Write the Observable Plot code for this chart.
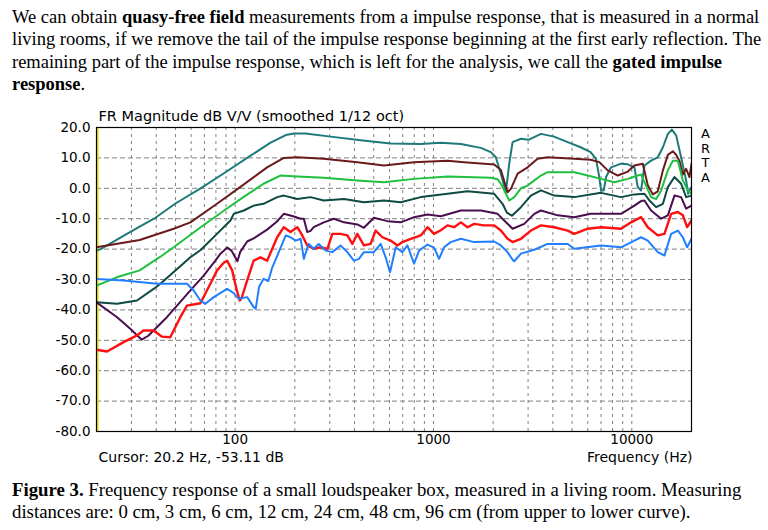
<!DOCTYPE html>
<html>
<head>
<meta charset="utf-8">
<script src="https://cdn.jsdelivr.net/npm/d3@7"></script>
<script src="https://cdn.jsdelivr.net/npm/@observablehq/plot@0.6"></script>
<style>
  html, body { margin: 0; padding: 0; background: #fff; }
  body { width: 768px; height: 530px; position: relative; overflow: hidden; }
  .txt { position: absolute; left: 12px; font-family: "Liberation Serif", "Times New Roman", serif; line-height: 22.4px; color: #000; white-space: nowrap; }
  #para { top: 6px; font-size: 18.5px; }
  #caption { top: 479px; font-size: 18.8px; }
  #chart { position: absolute; left: 0; top: 100px; }
</style>
</head>
<body>
<div id="para" class="txt">We can obtain <b>quasy-free field</b> measurements from a impulse response, that is measured in a normal<br>living rooms, if we remove the tail of the impulse response beginning at the first early reflection. The<br>remaining part of the impulse response, which is left for the analysis, we call the <b>gated impulse</b><br><b>response</b>.</div>
<div id="chart"></div>
<div id="caption" class="txt"><b>Figure 3.</b> Frequency response of a small loudspeaker box, measured in a living room. Measuring<br>distances are: 0 cm, 3 cm, 6 cm, 12 cm, 24 cm, 48 cm, 96 cm (from upper to lower curve).</div>
<script>
// ---- data: [frequency Hz, dB] ----
const d0cm = [[20,-20.5],[21,-20],[26,-16.5],[33,-12.6],[39,-10],[50,-5],[67,0],[89,5.2],[115,10],[151,15],[180,17.5],[198,18],[226,18],[303,17],[429,15.8],[608,14.7],[863,14.6],[1089,15],[1374,14.6],[1734,13.3],[1945,11.9],[2063,10.2],[2187,4.8],[2318,-1.3],[2411,8.2],[2506,15.2],[2761,16.3],[3029,16],[3483,17.9],[4053,17],[4752,15.2],[5521,13.5],[6200,11.9],[6600,9.7],[6855,3.7],[6996,-0.7],[7222,-0.7],[7417,3.7],[7859,6.9],[8827,8.1],[9550,7.9],[10310,6.9],[10720,0.4],[11137,-0.7],[11580,7.5],[12510,9.1],[13520,10.2],[14350,13.5],[15200,17.9],[15920,19.3],[16740,17.4],[17730,10.2],[18790,2.6],[19230,-1.8],[20000,0.4]];
const d3cm = [[20,-19.4],[33,-17],[49,-13.3],[59.5,-11.2],[81,-5.1],[106,0.4],[145,6.9],[176,10],[206,10.2],[280,9.7],[413,8.6],[563,7.5],[798,8.6],[1177,9.1],[1427,8.6],[2024,7.8],[2187,6.0],[2364,-1.3],[2457,-0.2],[2657,4.8],[2984,6.9],[3350,9.7],[3765,10.2],[5130,9.7],[6200,9.4],[6855,8.6],[7564,5.9],[8500,4.2],[9550,5.5],[10310,7.5],[11360,8.1],[12040,1],[12760,-2],[13520,-1],[14350,5.9],[15200,11],[16110,12.2],[16740,11],[17400,9],[18090,4.5],[18790,6.4],[19540,3.7],[20000,8.1]];
const d6cm = [[20,-32],[26,-29],[33,-27],[42,-22.5],[49,-19.4],[67,-12.8],[88,-7.3],[110,-2.9],[139,1.5],[169,4.2],[206,3.9],[280,3.5],[413,2.6],[563,2.0],[798,3.1],[1177,3.9],[1945,3.5],[2105,3.0],[2187,1.5],[2273,-0.7],[2411,-4.0],[2554,-2.9],[2761,0],[2984,0.9],[3222,2.6],[3483,4.2],[3765,5.3],[5130,5.3],[5996,4.2],[6996,3.1],[8169,2.0],[9550,3.1],[10720,4.2],[11137,4.5],[11580,2],[12510,-2.9],[13260,-3.5],[14060,-0.7],[15200,5.9],[16110,9.1],[17080,9.1],[18090,2.6],[19180,-0.7],[20000,-1.8]];
const d12cm = [[20,-37.5],[25.4,-38],[32,-36.9],[38.8,-33.1],[42,-31.4],[59.5,-22.7],[67,-20.3],[81,-15],[94.7,-10.6],[98.4,-8.4],[110.5,-7.3],[124,-5.7],[139,-5.1],[163,-2.9],[176,-2.4],[206,-3.5],[240,-2.9],[280,-4.0],[354,-3.5],[446,-4.6],[563,-4.0],[684,-4.6],[863,-2.9],[1177,-1.8],[1485,-1.0],[2024,-1.8],[2231,-5.1],[2345,-8],[2486,-9],[2761,-6.2],[3100,-2.4],[3483,-0.7],[4065,-2.4],[5130,-2.9],[6996,-1.5],[8827,-2.9],[10310,-2.0],[11580,-1.8],[12270,-4.0],[13260,-6.2],[14350,-5.1],[15200,0.4],[16410,3.7],[17730,1.5],[18790,-2.9],[20000,-2.4]];
const d24cm = [[20,-37.5],[25.4,-42.4],[29.6,-46.2],[33.8,-49.8],[36.5,-48.5],[38.8,-46.8],[45.3,-42.4],[59.5,-33.6],[69.4,-28.7],[79.5,-23.8],[84.3,-21.5],[91.4,-19.5],[95.8,-20.5],[102.7,-24],[106,-21],[115,-17.5],[124,-16.5],[145,-13.6],[162,-11],[176,-8.4],[198,-9.3],[214,-10],[222,-10],[231,-14.4],[240,-14],[249,-12.8],[280,-11.2],[315,-10.0],[354,-11.2],[413,-11.9],[446,-13.0],[501,-9.7],[586,-10.8],[684,-11.2],[798,-9.5],[933,-8.6],[1089,-9.2],[1374,-7.3],[1734,-7.3],[2105,-8.4],[2273,-10.6],[2506,-13.3],[2869,-11.7],[3222,-8.4],[3483,-7.3],[4229,-8.9],[5130,-9.5],[6200,-8.4],[8827,-8.4],[10310,-5.7],[11137,-4.2],[11580,-4.0],[12510,-7.3],[14060,-10.0],[15200,-8.9],[16410,-2.4],[17730,-2.9],[18790,-6.7],[20000,-5.7]];
const d48cm = [[20,-53.1],[22.6,-53.7],[27.4,-50.6],[32,-48.4],[34.5,-46.8],[38.8,-46.8],[42.8,-48.8],[47.1,-49],[52.9,-42.4],[57.2,-38.6],[66.8,-37.8],[75,-31.4],[81.1,-27],[87.6,-24.5],[91.1,-23.8],[96.6,-27],[102,-33.6],[105.5,-36.9],[108,-36],[115,-30.3],[124,-23.8],[134,-22.7],[145,-23.8],[163,-16.1],[176,-12.8],[190,-14.4],[206,-12.8],[218,-15.5],[231,-18.8],[249,-19.9],[270,-19.4],[292,-19.9],[309,-15.0],[340,-15.0],[368,-15.5],[390,-18.3],[413,-15.0],[446,-18.8],[482,-18.3],[511,-13.9],[553,-16.1],[608,-17.2],[658,-18.8],[697,-17.7],[768,-16.6],[863,-15.5],[933,-12.8],[1007,-15.0],[1089,-13.8],[1177,-12.2],[1271,-12.8],[1374,-11.2],[1485,-12.8],[1604,-11.7],[1795,-12.2],[2024,-12.2],[2187,-13.9],[2364,-16.6],[2506,-17.7],[2761,-16.6],[3100,-13.9],[3483,-12.2],[4065,-12.8],[4752,-13.9],[5130,-15.0],[5996,-13.3],[6996,-12.8],[8827,-13.3],[9920,-11.2],[11137,-9.5],[12040,-12.8],[13520,-15.5],[14610,-15.0],[15790,-8.4],[17080,-7.8],[18090,-8.9],[19020,-12.8],[20000,-10.6]];
const d96cm = [[20,-29.8],[27.4,-30.3],[40.4,-31.4],[57.2,-31.4],[61.8,-33.6],[66.8,-36.9],[70.8,-38.0],[78,-35.8],[91.1,-33.1],[98.4,-34.5],[104,-36.3],[115,-35.8],[124,-39.1],[127,-39.6],[132,-32.5],[139,-29.8],[147,-30.5],[154,-26],[166,-21],[180,-15.5],[190,-16.1],[202,-17.2],[214,-16.6],[222,-23.2],[235,-18.3],[249,-19.9],[264,-18.3],[286,-20.5],[309,-21.0],[340,-18.8],[368,-21.0],[397,-23.8],[421,-23.2],[446,-21.0],[500,-21],[542,-18.3],[574,-22.7],[604,-27.6],[645,-19.4],[697,-21],[739,-18.8],[798,-24.8],[846,-20.5],[933,-18.5],[1007,-19.5],[1067,-23.2],[1131,-19.4],[1222,-17.7],[1374,-16.6],[1604,-17.7],[2024,-17.5],[2187,-18.8],[2364,-21.0],[2506,-23.5],[2554,-24.0],[2761,-21.5],[3222,-20.2],[3765,-18.3],[4752,-18.3],[5130,-19.9],[6996,-18.8],[8827,-19.4],[10310,-17.2],[11137,-16.1],[12040,-17.2],[13520,-21.0],[14610,-22.1],[15790,-15.0],[17080,-13.9],[18090,-16.1],[19020,-19.4],[20000,-16.6]];

const seriesNames = ["0 cm","3 cm","6 cm","12 cm","24 cm","48 cm","96 cm"];
const seriesData = [d0cm, d3cm, d6cm, d12cm, d24cm, d48cm, d96cm];
const seriesColors = ["#1c7b78","#6a1a1a","#1fbf3f","#0c4a42","#4a0e4e","#ff1010","#1f7fff"];

const xTickLabels = [100, 1000, 10000];
const xGrid = [30,40,50,60,70,80,90,100,200,300,400,500,600,700,800,900,1000,2000,3000,4000,5000,6000,7000,8000,9000,10000];
const yTicks = [20,10,0,-10,-20,-30,-40,-50,-60,-70,-80];
const cursorFreq = 20.2;

const titleText = "FR Magnitude dB V/V (smoothed 1/12 oct)";
const cursorText = "Cursor: 20.2 Hz, -53.11 dB";
const xLabelText = "Frequency (Hz)";
const brandText = "A\nR\nT\nA";

const lineMarks = seriesData.map((d, i) =>
  Plot.line(d, {x: p => p[0], y: p => p[1], stroke: seriesColors[i], strokeWidth: i === 5 ? 2.4 : 2, clip: true})
);

const chart = Plot.plot({
  width: 768,
  height: 370,
  marginLeft: 96,
  marginRight: 77,
  marginTop: 27,
  marginBottom: 39,
  style: {fontFamily: "'DejaVu Sans', Verdana, sans-serif", fontSize: "14px", color: "#000", background: "#fff"},
  x: {type: "log", domain: [20, 20000]},
  y: {domain: [-80, 20]},
  marks: [
    Plot.ruleX(xGrid, {stroke: "#808080", strokeDasharray: "3,4", strokeWidth: 1}),
    Plot.ruleY(yTicks.slice(1, -1), {stroke: "#808080", strokeDasharray: "5,3", strokeWidth: 1}),
    Plot.axisX({ticks: xTickLabels, tickFormat: d => String(d), tickSize: 0, tickPadding: 3, label: null, fontSize: 13.5}),
    Plot.axisY({ticks: yTicks, tickFormat: d => d.toFixed(1), tickSize: 0, tickPadding: 6, label: null, fontSize: 13.5}),
    Plot.ruleX([cursorFreq], {stroke: "#e4e400", strokeWidth: 2.5}),
    ...lineMarks,
    Plot.frame({stroke: "#000", strokeWidth: 1.2}),
    Plot.text([titleText], {frameAnchor: "top-left", dx: 2, dy: -11, lineAnchor: "middle", textAnchor: "start", fontSize: 14.5}),
    Plot.text([cursorText], {frameAnchor: "bottom-left", dx: 2, dy: 26, lineAnchor: "middle", textAnchor: "start", fontSize: 14}),
    Plot.text([xLabelText], {frameAnchor: "bottom-right", dx: 1, dy: 26, lineAnchor: "middle", textAnchor: "end", fontSize: 14}),
    Plot.text([brandText], {frameAnchor: "top-right", dx: 14, dy: 0, lineAnchor: "top", textAnchor: "middle", fontSize: 13, lineHeight: 1.13})
  ]
});
document.getElementById("chart").appendChild(chart);
</script>
</body>
</html>
